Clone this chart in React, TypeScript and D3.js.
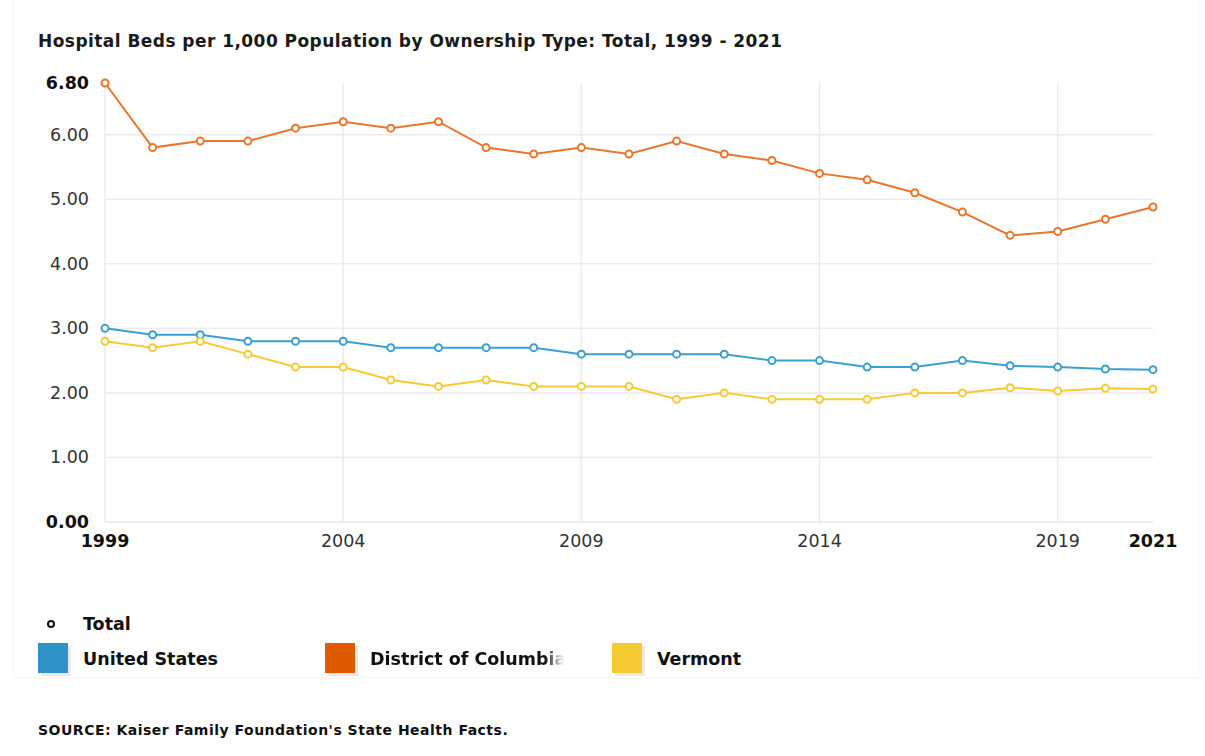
import { useEffect, useRef } from 'react';
import * as d3 from 'd3';

const years = d3.range(1999, 2022);
const unitedStates = [3.0, 2.9, 2.9, 2.8, 2.8, 2.8, 2.7, 2.7, 2.7, 2.7, 2.6, 2.6, 2.6, 2.6, 2.5, 2.5, 2.4, 2.4, 2.5, 2.42, 2.4, 2.37, 2.36];
const districtOfColumbia = [6.8, 5.8, 5.9, 5.9, 6.1, 6.2, 6.1, 6.2, 5.8, 5.7, 5.8, 5.7, 5.9, 5.7, 5.6, 5.4, 5.3, 5.1, 4.8, 4.44, 4.5, 4.69, 4.88];
const vermont = [2.8, 2.7, 2.8, 2.6, 2.4, 2.4, 2.2, 2.1, 2.2, 2.1, 2.1, 2.1, 1.9, 2.0, 1.9, 1.9, 1.9, 2.0, 2.0, 2.08, 2.03, 2.07, 2.06];

const yTicks = [0, 1, 2, 3, 4, 5, 6, 6.8];
const xTicks = [1999, 2004, 2009, 2014, 2019, 2021];

const seriesList = [
  { name: 'United States', values: unitedStates, line: '#3b9fd0', swatch: '#2f93c7' },
  { name: 'District of Columbia', values: districtOfColumbia, line: '#e8762c', swatch: '#e05b00' },
  { name: 'Vermont', values: vermont, line: '#f6c935', swatch: '#f4cb33' },
];

const FONT = '"DejaVu Sans", Verdana, sans-serif';

export default function App() {
  const svgRef = useRef<SVGSVGElement>(null);

  useEffect(() => {
    if (!svgRef.current) return;
    const width = 1205;
    const height = 756;
    const svg = d3.select(svgRef.current);
    svg.selectAll('*').remove();
    svg.attr('width', width).attr('height', height);

    const x = d3.scaleLinear().domain([1999, 2021]).range([105, 1153]);
    const y = d3.scaleLinear().domain([0, 6.8]).range([522, 83]);

    // faint panel edge
    svg.append('rect')
      .attr('x', 14).attr('y', -2).attr('width', 1186).attr('height', 680)
      .attr('fill', '#fff').attr('stroke', '#f3f3f3').attr('stroke-width', 1);

    svg.append('text')
      .attr('x', 38).attr('y', 47)
      .attr('font-family', FONT).attr('font-size', 17).attr('font-weight', 'bold')
      .attr('letter-spacing', 0.45)
      .attr('fill', '#1a1a1a')
      .text('Hospital Beds per 1,000 Population by Ownership Type: Total, 1999 - 2021');

    const g = svg.append('g');

    // horizontal grid
    g.selectAll('line.hgrid')
      .data(yTicks.filter((t) => t > 0 && t < 6.8))
      .join('line')
      .attr('x1', x(1999)).attr('x2', x(2021))
      .attr('y1', (d) => y(d)).attr('y2', (d) => y(d))
      .attr('stroke', '#ebebeb').attr('stroke-width', 1.5);

    // vertical grid
    g.selectAll('line.vgrid')
      .data(xTicks.filter((t) => t < 2021))
      .join('line')
      .attr('x1', (d) => x(d)).attr('x2', (d) => x(d))
      .attr('y1', y(6.8)).attr('y2', y(0))
      .attr('stroke', '#ebebeb').attr('stroke-width', 1.5);

    // baseline
    g.append('line')
      .attr('x1', x(1999)).attr('x2', x(2021))
      .attr('y1', y(0)).attr('y2', y(0))
      .attr('stroke', '#e6e6e6').attr('stroke-width', 1.5);

    // y labels
    g.selectAll('text.ylab')
      .data(yTicks)
      .join('text')
      .attr('x', 89).attr('y', (d) => y(d) + 6)
      .attr('text-anchor', 'end')
      .attr('font-family', FONT).attr('font-size', 17.5)
      .attr('font-weight', (d) => (d === 0 || d === 6.8 ? 'bold' : 'normal'))
      .attr('fill', (d) => (d === 0 || d === 6.8 ? '#111' : '#333'))
      .text((d) => d.toFixed(2));

    // x labels
    g.selectAll('text.xlab')
      .data(xTicks)
      .join('text')
      .attr('x', (d) => x(d)).attr('y', 547)
      .attr('text-anchor', 'middle')
      .attr('font-family', FONT).attr('font-size', 17.5)
      .attr('font-weight', (d) => (d === 1999 || d === 2021 ? 'bold' : 'normal'))
      .attr('fill', (d) => (d === 1999 || d === 2021 ? '#111' : '#333'))
      .text((d) => String(d));

    const line = d3.line<number>()
      .x((_, i) => x(years[i]))
      .y((d) => y(d));

    seriesList.forEach((s) => {
      g.append('path')
        .datum(s.values)
        .attr('fill', 'none')
        .attr('stroke', s.line)
        .attr('stroke-width', 2)
        .attr('d', line);
      g.selectAll(null)
        .data(s.values)
        .join('circle')
        .attr('cx', (_, i) => x(years[i]))
        .attr('cy', (d) => y(d))
        .attr('r', 3.5)
        .attr('fill', '#fff')
        .attr('stroke', s.line)
        .attr('stroke-width', 2);
    });

    // legend
    const defs = svg.append('defs');
    const grad = defs.append('linearGradient').attr('id', 'fade').attr('x1', 0).attr('x2', 1);
    grad.append('stop').attr('offset', 0.9).attr('stop-color', '#fff').attr('stop-opacity', 1);
    grad.append('stop').attr('offset', 1).attr('stop-color', '#fff').attr('stop-opacity', 0);
    defs.append('mask').attr('id', 'fadeMask')
      .attr('maskUnits', 'userSpaceOnUse')
      .attr('x', 0).attr('y', 0).attr('width', width).attr('height', height)
      .append('rect')
      .attr('x', 370).attr('y', 640).attr('width', 194).attr('height', 40)
      .attr('fill', 'url(#fade)');

    const legend = svg.append('g');
    legend.append('circle')
      .attr('cx', 51).attr('cy', 624).attr('r', 3)
      .attr('fill', '#fff').attr('stroke', '#111').attr('stroke-width', 2);
    legend.append('text')
      .attr('x', 83).attr('y', 630)
      .attr('font-family', FONT).attr('font-size', 17.5).attr('font-weight', 'bold')
      .attr('fill', '#111').text('Total');

    seriesList.forEach((s, i) => {
      const lx = 38 + i * 287;
      legend.append('rect')
        .attr('x', lx + 3).attr('y', 646).attr('width', 30).attr('height', 30)
        .attr('fill', '#e9e9e9');
      legend.append('rect')
        .attr('x', lx).attr('y', 643).attr('width', 30).attr('height', 30)
        .attr('fill', s.swatch);
      const t = legend.append('text')
        .attr('x', lx + 45).attr('y', 665)
        .attr('font-family', FONT).attr('font-size', 17.5).attr('font-weight', 'bold')
        .attr('fill', '#111').text(s.name);
      if (i === 1) t.attr('mask', 'url(#fadeMask)');
    });

    svg.append('text')
      .attr('x', 38).attr('y', 735)
      .attr('font-family', FONT).attr('font-size', 14).attr('font-weight', 'bold')
      .attr('letter-spacing', 0.5)
      .attr('fill', '#111')
      .text("SOURCE: Kaiser Family Foundation's State Health Facts.");
  }, []);

  return (
    <div style={{ position: 'absolute', left: 0, top: 0, background: '#fff' }}>
      <svg ref={svgRef} style={{ display: 'block' }} />
    </div>
  );
}
